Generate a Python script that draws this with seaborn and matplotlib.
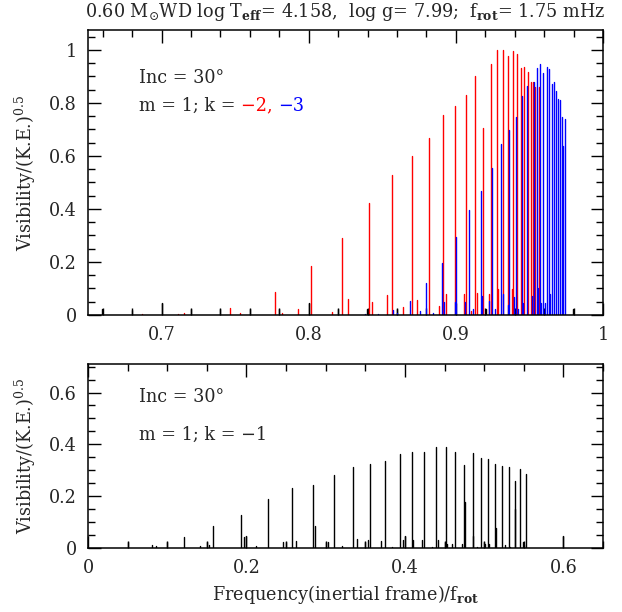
import numpy as np
import pandas as pd
import matplotlib
matplotlib.use("Agg")
import matplotlib.pyplot as plt
import seaborn as sns
from matplotlib.ticker import MultipleLocator

# ---------------- data ----------------
# top panel, k = -2 (red)
red_f = [0.6867, 0.7112, 0.7152, 0.7465, 0.7533, 0.7771, 0.7818, 0.7927, 0.8016, 0.8158,
         0.8226, 0.8267, 0.8410, 0.8430, 0.8532, 0.8566, 0.8641, 0.8702, 0.8736, 0.8817,
         0.8885, 0.8913, 0.8933, 0.8994, 0.9055, 0.9069, 0.9103, 0.9130, 0.9144, 0.9184,
         0.9225, 0.9239, 0.9280, 0.9286, 0.9320, 0.9354, 0.9382, 0.9388, 0.9416, 0.9443,
         0.9463, 0.9490, 0.9511, 0.9524, 0.9538, 0.9565]
red_v = [0.005, 0.005, 0.006, 0.028, 0.008, 0.087, 0.008, 0.021, 0.185, 0.011,
         0.290, 0.062, 0.421, 0.048, 0.077, 0.528, 0.031, 0.599, 0.057, 0.669,
         0.034, 0.756, 0.078, 0.790, 0.081, 0.829, 0.015, 0.902, 0.084, 0.707,
         0.081, 0.946, 1.000, 0.097, 1.000, 0.977, 0.097, 0.996, 0.984, 0.930,
         0.936, 0.918, 0.877, 0.880, 0.860, 0.860]

# top panel, k = -3 (blue)
blue_f = [0.8382, 0.8471, 0.8573, 0.8600, 0.8688, 0.8756, 0.8797, 0.8845, 0.8906, 0.8919,
          0.8994, 0.9001, 0.9062, 0.9089, 0.9116, 0.9171, 0.9178, 0.9225, 0.9246, 0.9266,
          0.9307, 0.9320, 0.9354, 0.9361, 0.9395, 0.9409, 0.9422, 0.9450, 0.9456, 0.9484,
          0.9518, 0.9531, 0.9551, 0.9558, 0.9572, 0.9579, 0.9592, 0.9606, 0.9619, 0.9633,
          0.9640, 0.9653, 0.9667, 0.9681, 0.9694, 0.9708, 0.9721, 0.9728, 0.9742]
blue_v = [0.003, 0.005, 0.018, 0.006, 0.053, 0.015, 0.120, 0.006, 0.195, 0.050,
          0.050, 0.296, 0.049, 0.396, 0.024, 0.468, 0.070, 0.053, 0.553, 0.021,
          0.644, 0.078, 0.036, 0.697, 0.068, 0.745, 0.021, 0.826, 0.047, 0.864,
          0.072, 0.880, 0.933, 0.100, 0.948, 0.047, 0.914, 0.047, 0.937, 0.927,
          0.078, 0.870, 0.877, 0.845, 0.814, 0.810, 0.745, 0.638, 0.741]

# top panel, other modes (black)
blk_top_f = [0.6595, 0.6799, 0.7003, 0.7200, 0.7397, 0.7601, 0.7798, 0.8002, 0.8199,
             0.8396, 0.8600, 0.9205, 0.9796]
blk_top_v = [0.021, 0.020, 0.044, 0.021, 0.021, 0.021, 0.021, 0.044, 0.021,
             0.024, 0.024, 0.024, 0.024]

# bottom panel, k = -1 (black)
k1_f = [0.0501, 0.0804, 0.0860, 0.1001, 0.1216, 0.1414, 0.1498, 0.1531, 0.1582, 0.1927,
        0.1973, 0.1994, 0.2120, 0.2268, 0.2457, 0.2495, 0.2571, 0.2625, 0.2844, 0.2869,
        0.3000, 0.3033, 0.3107, 0.3212, 0.3341, 0.3391, 0.3500, 0.3538, 0.3555, 0.3698,
        0.3753, 0.3837, 0.3934, 0.3972, 0.4001, 0.4093, 0.4102, 0.4212, 0.4245, 0.4338,
        0.4388, 0.4413, 0.4502, 0.4515, 0.4535, 0.4594, 0.4632, 0.4717, 0.4746, 0.4752,
        0.4855, 0.4863, 0.4905, 0.4956, 0.4998, 0.5011, 0.5048, 0.5065, 0.5137, 0.5146,
        0.5225, 0.5267, 0.5310, 0.5322, 0.5385, 0.5390, 0.5456, 0.5494, 0.5507, 0.5528,
        0.5999]
k1_v = [0.022, 0.011, 0.006, 0.022, 0.041, 0.006, 0.022, 0.013, 0.085, 0.128,
        0.041, 0.047, 0.006, 0.188, 0.022, 0.022, 0.230, 0.026, 0.242, 0.083,
        0.022, 0.022, 0.283, 0.009, 0.313, 0.036, 0.022, 0.029, 0.323, 0.028,
        0.336, 0.005, 0.361, 0.029, 0.047, 0.369, 0.032, 0.029, 0.370, 0.005,
        0.388, 0.032, 0.022, 0.388, 0.015, 0.015, 0.372, 0.015, 0.319, 0.176,
        0.367, 0.045, 0.005, 0.346, 0.022, 0.015, 0.343, 0.017, 0.325, 0.079,
        0.318, 0.011, 0.314, 0.005, 0.259, 0.150, 0.304, 0.022, 0.010, 0.284,
        0.047]

top_xticks = [0.7, 0.8, 0.9, 1.0]
top_xticklabels = ["0.7", "0.8", "0.9", "1"]
top_yticks = [0.0, 0.2, 0.4, 0.6, 0.8, 1.0]
top_yticklabels = ["0", "0.2", "0.4", "0.6", "0.8", "1"]
bot_xticks = [0.0, 0.2, 0.4, 0.6]
bot_xticklabels = ["0", "0.2", "0.4", "0.6"]
bot_yticks = [0.0, 0.2, 0.4, 0.6]
bot_yticklabels = ["0", "0.2", "0.4", "0.6"]

title = (r"0.60 M$_{\odot}$WD log T$_{\mathbf{eff}}$= 4.158,  log g= 7.99;  "
         r"f$_{\mathbf{rot}}$= 1.75 mHz")
ylabel = r"Visibility/(K.E.)$^{0.5}$"
xlabel = r"Frequency(inertial frame)/f$_{\mathbf{rot}}$"


def sticks(freqs, vals, label):
    rows = []
    for i, (f, v) in enumerate(zip(freqs, vals)):
        rows.append((label, f"{label}{i}", f, 0.0))
        rows.append((label, f"{label}{i}", f, v))
    return pd.DataFrame(rows, columns=["series", "id", "f", "v"])


# ---------------- style ----------------
sns.set_style("ticks")
plt.rcParams["font.family"] = ["DejaVu Serif"]
plt.rcParams["mathtext.fontset"] = "dejavuserif"
plt.rcParams["axes.linewidth"] = 1.1

FS = 12.7
W, H = 622, 612
fig = plt.figure(figsize=(W / 100, H / 100), dpi=100)
ax1 = fig.add_axes([88 / W, 1 - 315 / H, 515 / W, 285 / H])
ax2 = fig.add_axes([88 / W, 1 - 548 / H, 515 / W, 184 / H])

pal = {"k": "black", "r": "#ff0000", "b": "#0000ff"}

top_df = pd.concat([sticks(blk_top_f, blk_top_v, "k"),
                    sticks(red_f, red_v, "r"),
                    sticks(blue_f, blue_v, "b")], ignore_index=True)
sns.lineplot(data=top_df, x="f", y="v", hue="series", hue_order=["k", "r", "b"],
             units="id", estimator=None, sort=False, palette=pal,
             lw=1.0, legend=False, ax=ax1)

bot_df = sticks(k1_f, k1_v, "k")
sns.lineplot(data=bot_df, x="f", y="v", hue="series", units="id", estimator=None,
             sort=False, palette=pal, lw=1.0, legend=False, ax=ax2)

for ax in (ax1, ax2):
    ax.tick_params(which="both", direction="in", top=True, right=True,
                   labelsize=FS, width=1.0, pad=8, color="black")
    ax.tick_params(which="major", length=9)
    ax.tick_params(which="minor", length=5)
    for s in ax.spines.values():
        s.set_color("black")
    ax.set_xlabel("")
    ax.set_ylabel(ylabel, fontsize=FS, labelpad=8)

ax1.set_xlim(0.65, 1.0)
ax1.set_ylim(0, 1.075)
ax1.set_xticks(top_xticks, top_xticklabels)
ax1.set_yticks(top_yticks, top_yticklabels)
ax1.xaxis.set_minor_locator(MultipleLocator(0.02))
ax1.yaxis.set_minor_locator(MultipleLocator(0.05))

ax2.set_xlim(0, 0.65)
ax2.set_ylim(0, 0.71)
ax2.set_xticks(bot_xticks, bot_xticklabels)
ax2.set_yticks(bot_yticks, bot_yticklabels)
ax2.xaxis.set_minor_locator(MultipleLocator(0.05))
ax2.yaxis.set_minor_locator(MultipleLocator(0.05))
ax2.set_xlabel(xlabel, fontsize=FS, labelpad=4)

# annotations
ax1.text(0.099, 0.832, "Inc = 30°", transform=ax1.transAxes, fontsize=FS,
         va="center", ha="left")
t1 = ax1.text(0.099, 0.735, "m = 1; k = ", transform=ax1.transAxes,
              fontsize=FS, va="center", ha="left")
t2 = ax1.annotate("−2, ", xy=(1, 0), xycoords=t1, va="bottom", ha="left",
                  fontsize=FS, color="#ff0000")
ax1.annotate("−3", xy=(1, 0), xycoords=t2, va="bottom", ha="left",
             fontsize=FS, color="#0000ff")

ax2.text(0.099, 0.82, "Inc = 30°", transform=ax2.transAxes, fontsize=FS,
         va="center", ha="left")
ax2.text(0.099, 0.614, "m = 1; k = −1", transform=ax2.transAxes, fontsize=FS,
         va="center", ha="left")

fig.text(345 / W, 1 - 12 / H, title, fontsize=FS, ha="center", va="center")

fig.savefig("out.png", dpi=100)
